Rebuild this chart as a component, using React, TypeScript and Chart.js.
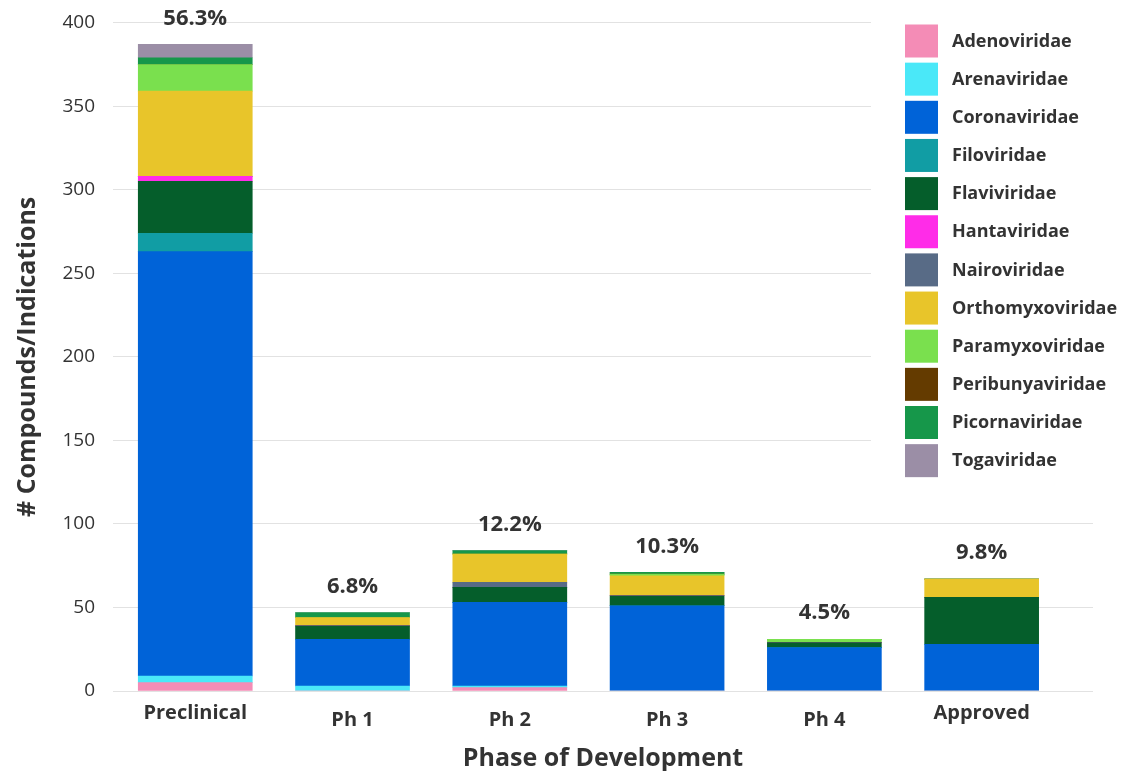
import React, { useEffect, useRef } from "react";
import { Chart, registerables } from "chart.js";

Chart.register(...registerables);

const phases = ["Preclinical", "Ph 1", "Ph 2", "Ph 3", "Ph 4", "Approved"];
const percentLabels = ["56.3%", "6.8%", "12.2%", "10.3%", "4.5%", "9.8%"];
const yTicks = [0, 50, 100, 150, 200, 250, 300, 350, 400];

const families = [
  "Adenoviridae",
  "Arenaviridae",
  "Coronaviridae",
  "Filoviridae",
  "Flaviviridae",
  "Hantaviridae",
  "Nairoviridae",
  "Orthomyxoviridae",
  "Paramyxoviridae",
  "Peribunyaviridae",
  "Picornaviridae",
  "Togaviridae",
];

const adenoviridae = [5, 0, 2, 0, 0, 0];
const arenaviridae = [4, 3, 1, 0, 0, 0];
const coronaviridae = [254, 28, 50, 51, 26, 28];
const filoviridae = [11, 0, 0, 0, 0, 0];
const flaviviridae = [31, 8, 9, 6, 3, 28];
const hantaviridae = [3, 0, 0, 0, 0, 0];
const nairoviridae = [0, 0, 3, 0, 0, 0];
const orthomyxoviridae = [51, 5, 17, 12, 0, 11];
const paramyxoviridae = [16, 0, 0, 1, 2, 0];
const peribunyaviridae = [0, 0, 0, 0, 0, 0];
const picornaviridae = [4, 3, 2, 1, 0, 0];
const togaviridae = [8, 0, 0, 0, 0, 0];

const seriesValues = [
  adenoviridae,
  arenaviridae,
  coronaviridae,
  filoviridae,
  flaviviridae,
  hantaviridae,
  nairoviridae,
  orthomyxoviridae,
  paramyxoviridae,
  peribunyaviridae,
  picornaviridae,
  togaviridae,
];

const colors = [
  "#F48CB6",
  "#4AE8F8",
  "#0063D8",
  "#119DA4",
  "#055E2B",
  "#FF2CE8",
  "#586B86",
  "#E8C52A",
  "#7AE04E",
  "#643B00",
  "#16974A",
  "#9B8EA6",
];

const FONT = '"Open Sans", "Noto Sans", sans-serif';
const TEXT = "#333333";

const percentPlugin = {
  id: "percentLabels",
  afterDatasetsDraw(chart: any) {
    const { ctx } = chart;
    const xs = chart.scales.x;
    const ys = chart.scales.y;
    ctx.save();
    ctx.font = `bold 22px ${FONT}`;
    ctx.fillStyle = TEXT;
    ctx.textAlign = "center";
    ctx.textBaseline = "middle";
    phases.forEach((_, i) => {
      let total = 0;
      seriesValues.forEach((s) => (total += s[i]));
      const x = xs.getPixelForValue(i);
      const y = ys.getPixelForValue(total);
      ctx.fillText(percentLabels[i], x, y - 26);
    });
    ctx.restore();
  },
};

const legendPlugin = {
  id: "boxLegend",
  afterDraw(chart: any) {
    const { ctx } = chart;
    ctx.save();
    ctx.fillStyle = "#ffffff";
    ctx.fillRect(871, 8, 266, 478);
    ctx.font = `bold 18px ${FONT}`;
    ctx.textAlign = "left";
    ctx.textBaseline = "middle";
    families.forEach((name, i) => {
      const top = 24.5 + i * 38.15;
      ctx.fillStyle = colors[i];
      ctx.fillRect(905, top, 33, 33);
      ctx.fillStyle = TEXT;
      ctx.fillText(name, 952, top + 17);
    });
    ctx.restore();
  },
};

export default function App() {
  const ref = useRef<HTMLCanvasElement | null>(null);

  useEffect(() => {
    if (!ref.current) return;
    const datasets = families.map((name, k) => ({
      label: name,
      data: seriesValues[k].map((v, i) => ({ x: i, y: v })),
      backgroundColor: colors[k],
      borderWidth: 0,
      barThickness: 114,
    }));
    const chart = new Chart(ref.current, {
      type: "bar",
      data: { datasets },
      options: {
        animation: false,
        responsive: false,
        maintainAspectRatio: false,
        layout: { padding: { top: 22.7, right: 44, left: 0, bottom: 0 } },
        plugins: {
          legend: { display: false },
          tooltip: { enabled: false },
        },
        scales: {
          x: {
            type: "linear",
            stacked: true,
            offset: false,
            min: -0.523,
            max: 5.708,
            grid: { display: false, drawTicks: false },
            border: { display: false },
            afterBuildTicks: (scale: any) => {
              scale.ticks = phases.map((_, i) => ({ value: i }));
            },
            afterFit: (scale: any) => {
              scale.height = 80;
              scale.paddingLeft = 0;
              scale.paddingRight = 0;
            },
            ticks: {
              autoSkip: false,
              maxRotation: 0,
              padding: 10,
              color: TEXT,
              font: (ctx: any) => {
                const lbl = phases[ctx.index] || "";
                const tall = lbl.startsWith("Ph");
                return {
                  family: FONT,
                  size: 20,
                  weight: "bold",
                  lineHeight: tall ? "38px" : "24px",
                } as any;
              },
              callback: (v: any) => phases[v as number] ?? "",
            },
            title: {
              display: true,
              text: "Phase of Development",
              color: TEXT,
              font: { family: FONT, size: 25, weight: "bold" },
              padding: { top: 0, bottom: -3 },
            },
          },
          y: {
            stacked: true,
            min: 0,
            max: 400,
            afterBuildTicks: (scale: any) => {
              scale.ticks = yTicks.map((v) => ({ value: v }));
            },
            afterFit: (scale: any) => {
              scale.width = 113;
              scale.paddingTop = 0;
              scale.paddingBottom = 0;
            },
            grid: { color: "#e2e2e2", lineWidth: 1, drawTicks: false },
            border: { display: false },
            ticks: {
              padding: 18,
              color: TEXT,
              font: { family: FONT, size: 19 },
            },
            title: {
              display: true,
              text: "# Compounds/Indications",
              color: TEXT,
              font: { family: FONT, size: 25, weight: "bold" },
              padding: { top: 13, bottom: 0 },
            },
          },
        },
      } as any,
      plugins: [percentPlugin, legendPlugin],
    });
    return () => chart.destroy();
  }, []);

  return (
    <div style={{ position: "absolute", left: 0, top: 0, width: 1137, height: 771, background: "#fff" }}>
      <canvas ref={ref} width={1137} height={771} style={{ width: 1137, height: 771 }} />
    </div>
  );
}
